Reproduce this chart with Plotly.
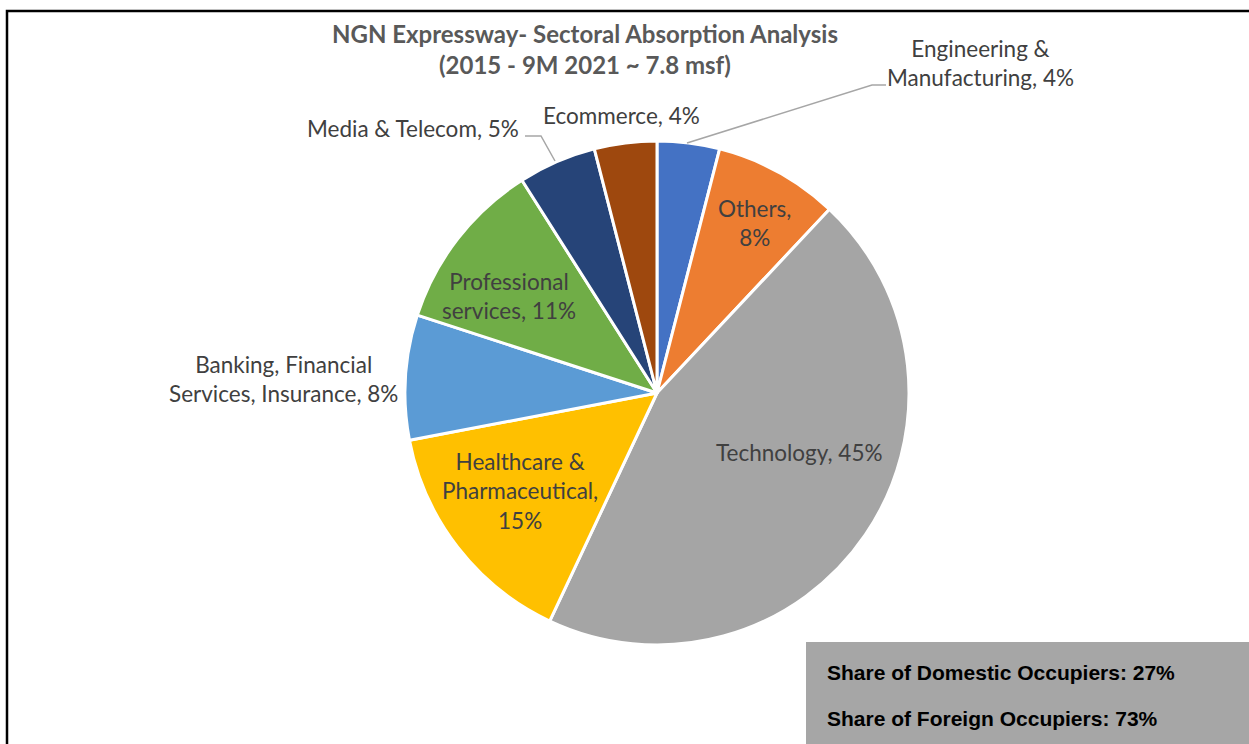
import plotly.graph_objects as go

W, H = 1249, 744

# Sector split of absorbed space, clockwise from 12 o'clock
sectors = [
    "Engineering & Manufacturing",
    "Others",
    "Technology",
    "Healthcare & Pharmaceutical",
    "Banking, Financial Services, Insurance",
    "Professional services",
    "Media & Telecom",
    "Ecommerce",
]
shares = [4, 8, 45, 15, 8, 11, 5, 4]
colors = ["#4472C4", "#ED7D31", "#A5A5A5", "#FFC000",
          "#5B9BD5", "#70AD47", "#264478", "#9E480E"]

occupier_types = ["Domestic", "Foreign"]
occupier_shares = [27, 73]

# how each data label wraps onto lines
label_format = {
    "Engineering & Manufacturing": "Engineering &<br>Manufacturing, {v}%",
    "Others": "Others,<br>{v}%",
    "Technology": "Technology, {v}%",
    "Healthcare & Pharmaceutical": "Healthcare &<br>Pharmaceutical,<br>{v}%",
    "Banking, Financial Services, Insurance": "Banking, Financial<br>Services, Insurance, {v}%",
    "Professional services": "Professional<br>services, {v}%",
    "Media & Telecom": "Media & Telecom, {v}%",
    "Ecommerce": "Ecommerce, {v}%",
}
# label anchor (pixel centre)
label_pos = {
    "Engineering & Manufacturing": (980, 63),
    "Others": (755, 223),
    "Technology": (799, 452),
    "Healthcare & Pharmaceutical": (520, 491),
    "Banking, Financial Services, Insurance": (283, 379),
    "Professional services": (509, 296),
    "Media & Telecom": (413, 129),
    "Ecommerce": (621, 116),
}

LABEL_FONT = "Lato, Open Sans, sans-serif"


def px(x, y):
    return x / W, 1 - y / H


cx, cy, r = 657, 393, 252
dx0, dy0 = px(cx - r, cy + r)
dx1, dy1 = px(cx + r, cy - r)

fig = go.Figure(go.Pie(
    labels=sectors,
    values=shares,
    sort=False,
    direction="clockwise",
    rotation=0,
    marker=dict(colors=colors, line=dict(color="white", width=3)),
    textinfo="none",
    showlegend=False,
    domain=dict(x=[dx0, dx1], y=[dy0, dy1]),
))

annotations = []
for name, v in zip(sectors, shares):
    x, y = label_pos[name]
    ax, ay = px(x, y)
    annotations.append(dict(
        x=ax, y=ay, xref="paper", yref="paper",
        text=label_format[name].format(v=v), showarrow=False,
        xanchor="center", yanchor="middle", align="center",
        font=dict(family=LABEL_FONT, size=22.5, color="#404040"),
    ))

# chart title
tx, ty = px(585, 49)
annotations.append(dict(
    x=tx, y=ty, xref="paper", yref="paper", showarrow=False,
    text="<b>NGN Expressway- Sectoral Absorption Analysis</b><br><b>(2015 - 9M 2021 ~ 7.8 msf)</b>",
    xanchor="center", yanchor="middle", align="center",
    font=dict(family=LABEL_FONT, size=24, color="#595959"),
))

# occupier split box text
for i, (kind, v) in enumerate(zip(occupier_types, occupier_shares)):
    bx, by = px(825, 672 + 46 * i)
    annotations.append(dict(
        x=bx, y=by, xref="paper", yref="paper", showarrow=False,
        text=f"<b>Share of {kind} Occupiers: {v}%</b>",
        xanchor="left", yanchor="middle",
        font=dict(family="Liberation Sans, Arial, sans-serif", size=21, color="black"),
    ))

shapes = []
# outer frame (open to the right and bottom edge)
fx0, fy0 = px(7, 11)
shapes.append(dict(type="rect", xref="paper", yref="paper",
                   x0=fx0, y0=-0.05, x1=1.05, y1=fy0,
                   line=dict(color="black", width=2.5), fillcolor="rgba(0,0,0,0)"))
# occupier box
gx0, gy0 = px(806, 642)
shapes.append(dict(type="rect", xref="paper", yref="paper",
                   x0=gx0, y0=-0.05, x1=1.05, y1=gy0,
                   line=dict(width=0), fillcolor="#A6A6A6"))


def leader(points):
    path = ""
    for k, (x, y) in enumerate(points):
        u, w = px(x, y)
        path += ("M" if k == 0 else "L") + f"{u},{w} "
    return dict(type="path", xref="paper", yref="paper", path=path.strip(),
                line=dict(color="#A6A6A6", width=1.5))


shapes.append(leader([(687, 143), (872, 85), (886, 85)]))
shapes.append(leader([(555, 161), (541, 136), (525, 136)]))

fig.update_layout(
    width=W, height=H,
    margin=dict(l=0, r=0, t=0, b=0),
    paper_bgcolor="white",
    plot_bgcolor="white",
    annotations=annotations,
    shapes=shapes,
)

fig.write_html("out.html")
